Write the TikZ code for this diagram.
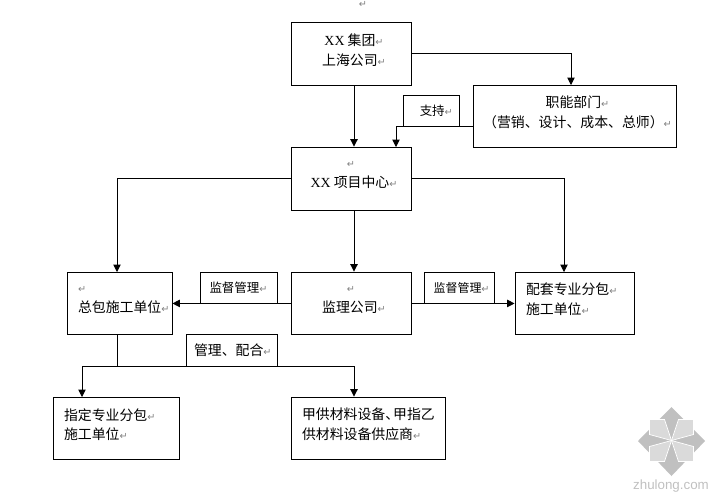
\documentclass[tikz,border=0pt]{standalone}
\usepackage{fontspec}
\usepackage{xcolor}
\setmainfont{Liberation Serif}
\newfontfamily\cjk{Noto Sans CJK SC}
\newfontfamily\markfont{DejaVu Sans}
\newfontfamily\wmfont{Liberation Sans}
\usetikzlibrary{arrows.meta}
\definecolor{markgray}{HTML}{808080}
\definecolor{logodark}{HTML}{C0C0C0}
\definecolor{logolight}{HTML}{DADADA}
\newcommand{\rmark}{{\markfont\fontsize{5.5}{5.5}\selectfont\textcolor{markgray}{↵}}}
\newcommand{\tailgap}{\\[-6.8pt]~}
\newcommand{\lpad}{\hspace*{3.4pt}}
\tikzset{
  box/.style 2 args={draw,line width=.5pt,inner sep=0pt,font=\cjk\fontsize{7.9}{11.3}\selectfont,
    minimum width=#1*.02cm,minimum height=#2*.02cm},
  midbox/.style={align=center},
  leftbox/.style={align=left,text width=#1*.02cm-22*.02cm},
  tag/.style={font=\cjk\fontsize{7.1}{9}\selectfont},
  conn/.style={line width=.5pt},
  arr/.style={line width=.5pt,-{Triangle[length=4.2pt,width=4.2pt]}}
}
\begin{document}
\begin{tikzpicture}[x=.02cm,y=-.02cm]
  \useasboundingbox (0,0) rectangle (717,498);
  \node (topmark) at (363,4) [inner sep=0pt] {\rmark};
  % top row
  \node (jituan) at (351,53.5) [box={120}{63},midbox] {\lpad{\rmfamily XX} 集团\rmark\\\lpad 上海公司\rmark\tailgap};
  \node (zhineng) at (574.5,116) [box={203}{62},midbox] {\lpad 职能部门\rmark\\\lpad（营销、设计、成本、总师）\rmark\tailgap};
  \node (zhichi) at (431,110.5) [box={56}{31},tag] {\hspace*{6pt}支持\rmark};
  \node (xiangmu) at (351,178.5) [box={120}{63},midbox] {\rmark\\\lpad{\rmfamily XX} 项目中心\rmark\tailgap};
  % middle row
  \node (zongbao) at (119.5,303) [box={105}{62},leftbox=105] {\rmark\\总包施工单位\rmark\tailgap};
  \node (jianli) at (351,303) [box={120}{62},midbox] {\rmark\\\lpad 监理公司\rmark\tailgap};
  \node (peitao) at (574.5,303) [box={119}{62},leftbox=119] {配套专业分包\rmark\\施工单位\rmark\tailgap};
  \node (duguan) at (238.5,287.5) [box={77}{31},tag] {监督管理\rmark};
  \node (dugright) at (459,287.5) [box={70}{31},tag,font=\cjk\fontsize{6.8}{9}\selectfont] {\hspace*{3pt}监督管理\rmark};
  \node (peihe) at (231.5,350) [box={91}{32},font=\cjk\fontsize{7.9}{9}\selectfont] {\hspace*{1.5pt}管理、配合\rmark};
  % bottom row
  \node (zhiding) at (116,428) [box={126}{62},leftbox=126] {指定专业分包\rmark\\施工单位\rmark\tailgap};
  \node (jiagong) at (368,428) [box={154}{62},leftbox=154] {甲供材料设备、\kern-3.4pt 甲指乙\\供材料设备供应商\rmark\tailgap};
  % connector ends
  \coordinate (midcol) at (354,0);
  \coordinate (zhinengin) at (571,85);
  \coordinate (zhinengout) at (473,126.5);
  \coordinate (xiangmuin) at (396,147);
  \coordinate (zongbaoin) at (117,272);
  \coordinate (peitaoin) at (564,272);
  \coordinate (zongbaodown) at (117,334);
  \coordinate (branch) at (117,366);
  \coordinate (zhidingin) at (82,397);
  % connectors
  \draw[arr] (jituan.east) -| (zhinengin);
  \draw[arr] (midcol |- jituan.south) -- (midcol |- xiangmu.north);
  \draw[arr] (zhinengout) -| (xiangmuin);
  \draw[arr] (xiangmu.west) -| (zongbaoin);
  \draw[arr] (xiangmu.east) -| (peitaoin);
  \draw[arr] (midcol |- xiangmu.south) -- (midcol |- jianli.north);
  \draw[arr] (jianli.west |- duguan.south) -- (zongbao.east |- duguan.south);
  \draw[arr] (jianli.east |- dugright.south) -- (peitao.west |- dugright.south);
  \draw[conn] (zongbaodown) -- (branch);
  \draw[arr] (branch) -| (zhidingin);
  \draw[arr] (branch) -| (midcol |- jiagong.north);
  % watermark
  \fill[logodark] (671.5,407) -- (705,441) -- (671.5,476) -- (638,441) -- cycle;
  \foreach \sx/\sy in {-1/-1,1/-1,-1/1,1/1}
    \filldraw[logolight,draw=white,line width=.4pt,shift={(671.5,440.5)},xscale=\sx,yscale=\sy]
      (0,0) -- (7,-21) -- (22,-21) -- (22,-6) -- cycle;
  \node (wmtext) at (671,486) [text=logodark,font=\wmfont\fontsize{7.6}{9}\selectfont,inner sep=0pt] {zhulong.com};
\end{tikzpicture}
\end{document}
